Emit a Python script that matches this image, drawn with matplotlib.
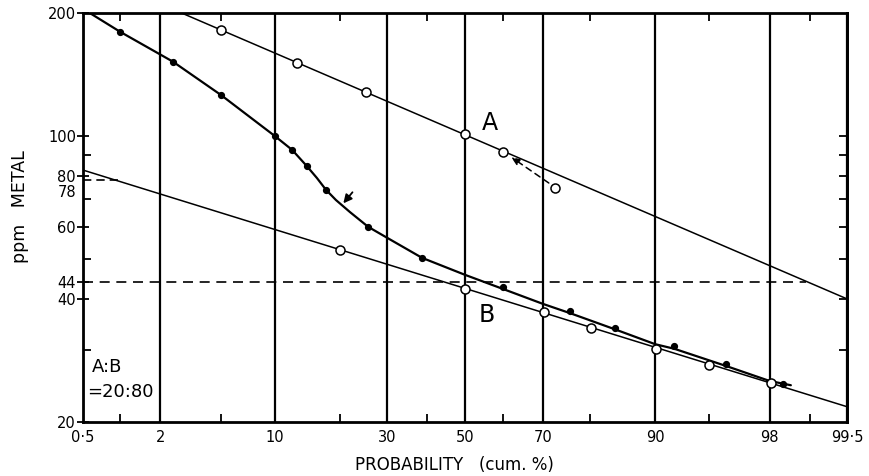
import numpy as np
import matplotlib
matplotlib.use('Agg')
import matplotlib.pyplot as plt
from matplotlib.ticker import FixedLocator, FixedFormatter, NullFormatter
from statistics import NormalDist

plt.rcParams['font.family'] = ['DejaVu Sans']

# ---- data (probability in cum. %, value in ppm) ----
# mixed population, filled dots
mix_p = [1.0, 2.45, 5.0, 10.0, 12.2, 14.3, 17.4, 25.7, 38.6, 60.1, 76.1, 84.4, 92.1, 96.1, 98.4]
mix_v = [180, 152, 126, 100, 92.5, 84.5, 73.8, 60, 50.4, 42.8, 37.4, 34.0, 30.6, 27.7, 24.8]

# hand drawn curve through the mixture
curve_p = [0.57, 1.0, 2.45, 5.0, 10.0, 12.2, 14.3, 15.9, 17.4, 19.2, 21.9, 25.7, 30.0,
           38.6, 50.0, 60.1, 70.0, 76.1, 84.4, 90.0, 92.1, 96.1, 98.0, 98.6]
curve_v = [200, 180, 152, 126, 100, 92.5, 84.5, 79.0, 74.0, 69.8, 65.2, 60.0, 56.4,
           50.4, 45.8, 42.3, 38.9, 36.9, 33.7, 31.0, 30.2, 27.4, 25.2, 24.6]

# population A (open circles) and its fitted line
a_p = [5.0, 12.9, 25.2, 50.0, 60.2, 72.8]
a_v = [182, 151, 128, 101, 91.6, 74.5]
a_line_p = [2.8, 99.5]
a_line_v = [200, 40]

# population B (open circles) and its fitted line
b_p = [19.9, 50.0, 70.3, 80.2, 90.1, 95.0, 98.05]
b_v = [52.6, 42.3, 37.2, 33.9, 30.2, 27.5, 24.9]
b_line_p = [0.5, 99.5]
b_line_v = [82.6, 21.8]

# threshold lines
thr44_p = [0.5, 98.93]
thr78_p = [0.5, 1.0]

# axes ticks
x_major = [0.5, 2, 10, 30, 50, 70, 90, 98, 99.5]
x_labels = ['0·5', '2', '10', '30', '50', '70', '90', '98', '99·5']
x_minor = [1, 5, 20, 40, 60, 80, 95, 99]
y_major = [20, 40, 44, 60, 80, 100, 200]
y_minor = [30, 50, 70, 90]
y_right = [30, 40, 50, 60, 70, 80, 90, 100]

# ---- normal probability scale ----
nd = NormalDist()
_ppf = np.vectorize(nd.inv_cdf, otypes=[float])
_cdf = np.vectorize(nd.cdf, otypes=[float])


def prob_fwd(p):
    p = np.clip(np.asarray(p, dtype=float) / 100.0, 1e-9, 1 - 1e-9)
    return _ppf(p)


def prob_inv(z):
    return _cdf(np.asarray(z, dtype=float)) * 100.0


fig = plt.figure(figsize=(8.7, 4.76), dpi=100)
ax = fig.add_axes([83 / 870, 1 - 422 / 476, 764 / 870, 409 / 476])
ax.set_xscale('function', functions=(prob_fwd, prob_inv))
ax.set_yscale('log')
ax.set_xlim(0.5, 99.5)
ax.set_ylim(20, 200)

# vertical grid lines
ax.xaxis.set_major_locator(FixedLocator(x_major))
ax.xaxis.set_major_formatter(FixedFormatter(x_labels))
ax.xaxis.set_minor_locator(FixedLocator(x_minor))
ax.xaxis.set_minor_formatter(NullFormatter())
ax.xaxis.grid(True, which='major', color='black', lw=1.6, zorder=1)
ax.set_axisbelow(True)

ax.yaxis.set_major_locator(FixedLocator(y_major))
ax.yaxis.set_major_formatter(FixedFormatter([str(v) for v in y_major]))
ax.yaxis.set_minor_locator(FixedLocator(y_minor))
ax.yaxis.set_minor_formatter(NullFormatter())

ax.tick_params(axis='x', which='major', length=0, pad=6, labelsize=10.5)
ax.tick_params(axis='x', which='minor', direction='in', length=6, width=1.3, top=True, bottom=True)
ax.tick_params(axis='y', which='major', direction='inout', length=8, width=1.3, labelsize=10.5, pad=1)
ax.tick_params(axis='y', which='minor', direction='in', length=6, width=1.3)

for s in ax.spines.values():
    s.set_linewidth(2.0)

sec = ax.secondary_yaxis('right')
sec.set_yticks(y_right)
sec.yaxis.set_minor_locator(FixedLocator([]))
sec.set_yticklabels([])
sec.tick_params(direction='in', length=6, width=1.3)
sec.spines['right'].set_linewidth(2.0)

# dashed thresholds
ax.plot(thr44_p, [44, 44], color='black', lw=1.2, ls=(0, (6, 4)), zorder=2)
ax.plot(thr78_p, [78, 78], color='black', lw=1.2, ls=(0, (5, 3)), zorder=2)

# fitted lines
ax.plot(a_line_p, a_line_v, color='black', lw=1.1, zorder=3)
ax.plot(b_line_p, b_line_v, color='black', lw=1.1, zorder=3)
ax.plot(curve_p, curve_v, color='black', lw=1.6, zorder=3, solid_capstyle='round',
        solid_joinstyle='round')

# outlier of A joined with a dashed arrow
ax.annotate('', xy=(62.2, 88.9), xytext=(71.4, 76.8),
            arrowprops=dict(arrowstyle='-|>,head_length=0.5,head_width=0.2', color='black',
                            lw=1.1, ls=(0, (4, 3)), shrinkA=0, shrinkB=0), zorder=3)

# arrow pointing at the inflection
ax.annotate('', xy=(20.6, 68.5), xytext=(22.4, 72.9),
            arrowprops=dict(arrowstyle='-|>,head_length=0.5,head_width=0.25', color='black',
                            lw=1.3, shrinkA=0, shrinkB=0), zorder=4)

# points
ax.plot(mix_p, mix_v, 'o', color='black', ms=4.2, zorder=5)
ax.plot(a_p, a_v, 'o', mfc='white', mec='black', mew=1.1, ms=6.5, zorder=6)
ax.plot(b_p, b_v, 'o', mfc='white', mec='black', mew=1.1, ms=6.5, zorder=6)

# labels
ax.text(56.7, 107.7, 'A', fontsize=17, ha='center', va='center')
ax.text(55.9, 36.5, 'B', fontsize=17, ha='center', va='center')
ax.text(0.012, 0.1345, 'A:B', transform=ax.transAxes, fontsize=13, ha='left', va='center')
ax.text(0.005, 0.0733, '=20:80', transform=ax.transAxes, fontsize=13, ha='left', va='center')
ax.annotate('78', xy=(0, 78), xycoords=('axes fraction', 'data'), xytext=(-5, -9),
            textcoords='offset points', ha='right', va='center', fontsize=10.5)

ax.text(-0.0825, 0.526, 'ppm   METAL', transform=ax.transAxes, rotation=90,
        fontsize=12.5, ha='center', va='center')
ax.text(0.4856, -0.105, 'PROBABILITY   (cum. %)', transform=ax.transAxes,
        fontsize=12, ha='center', va='center')

fig.savefig('out.png', dpi=100)
